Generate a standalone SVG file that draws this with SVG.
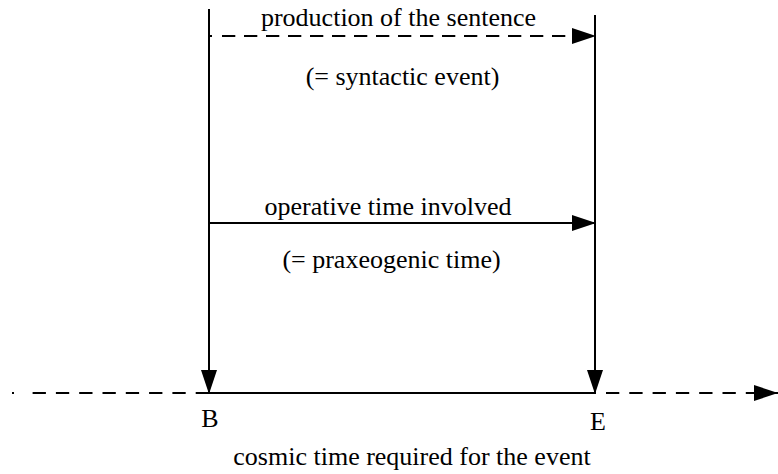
<svg xmlns="http://www.w3.org/2000/svg" width="778" height="474" viewBox="0 0 778 474">
<style>
.ln{stroke:#000;stroke-width:2;fill:none}
.ds{stroke-dasharray:13.3 10}
text{font-family:"Liberation Serif","Times New Roman",serif;font-size:26px;fill:#000}
</style>
<defs>
<marker id="ah" markerUnits="userSpaceOnUse" markerWidth="24" markerHeight="16" refX="24" refY="8" orient="auto" viewBox="0 0 24 16">
<path d="M0,0 L24,8 L0,16 z" fill="#000"/>
</marker>
</defs>
<rect width="778" height="474" fill="#fff"/>
<g id="connectors">
<line class="ln" x1="209" y1="9" x2="209" y2="394" marker-end="url(#ah)"/>
<line class="ln" x1="595" y1="15" x2="595" y2="394" marker-end="url(#ah)"/>
<line class="ln" x1="209" y1="36" x2="212" y2="36"/>
<line class="ln ds" x1="222" y1="36" x2="596" y2="36" style="stroke-dasharray:13.3 8.7" marker-end="url(#ah)"/>
<line class="ln" x1="209" y1="223" x2="596" y2="223" marker-end="url(#ah)"/>
<line class="ln" x1="209" y1="393" x2="595" y2="393"/>
<line class="ln" x1="12" y1="393" x2="14" y2="393"/>
<line class="ln ds" x1="209" y1="393" x2="32" y2="393"/>
<line class="ln ds" x1="606" y1="393" x2="778" y2="393" marker-end="url(#ah)"/>
</g>
<g id="label-production">
<text x="398.5" y="26" text-anchor="middle">production of the sentence</text>
<text x="402.5" y="85" text-anchor="middle">(= syntactic event)</text>
</g>
<g id="label-operative">
<text x="388" y="215" text-anchor="middle">operative time involved</text>
<text x="391.5" y="268" text-anchor="middle">(= praxeogenic time)</text>
</g>
<g id="node-B"><text x="210" y="427" text-anchor="middle">B</text></g>
<g id="node-E"><text x="598" y="430" text-anchor="middle">E</text></g>
<g id="label-cosmic"><text x="412" y="465" text-anchor="middle">cosmic time required for the event</text></g>
</svg>
